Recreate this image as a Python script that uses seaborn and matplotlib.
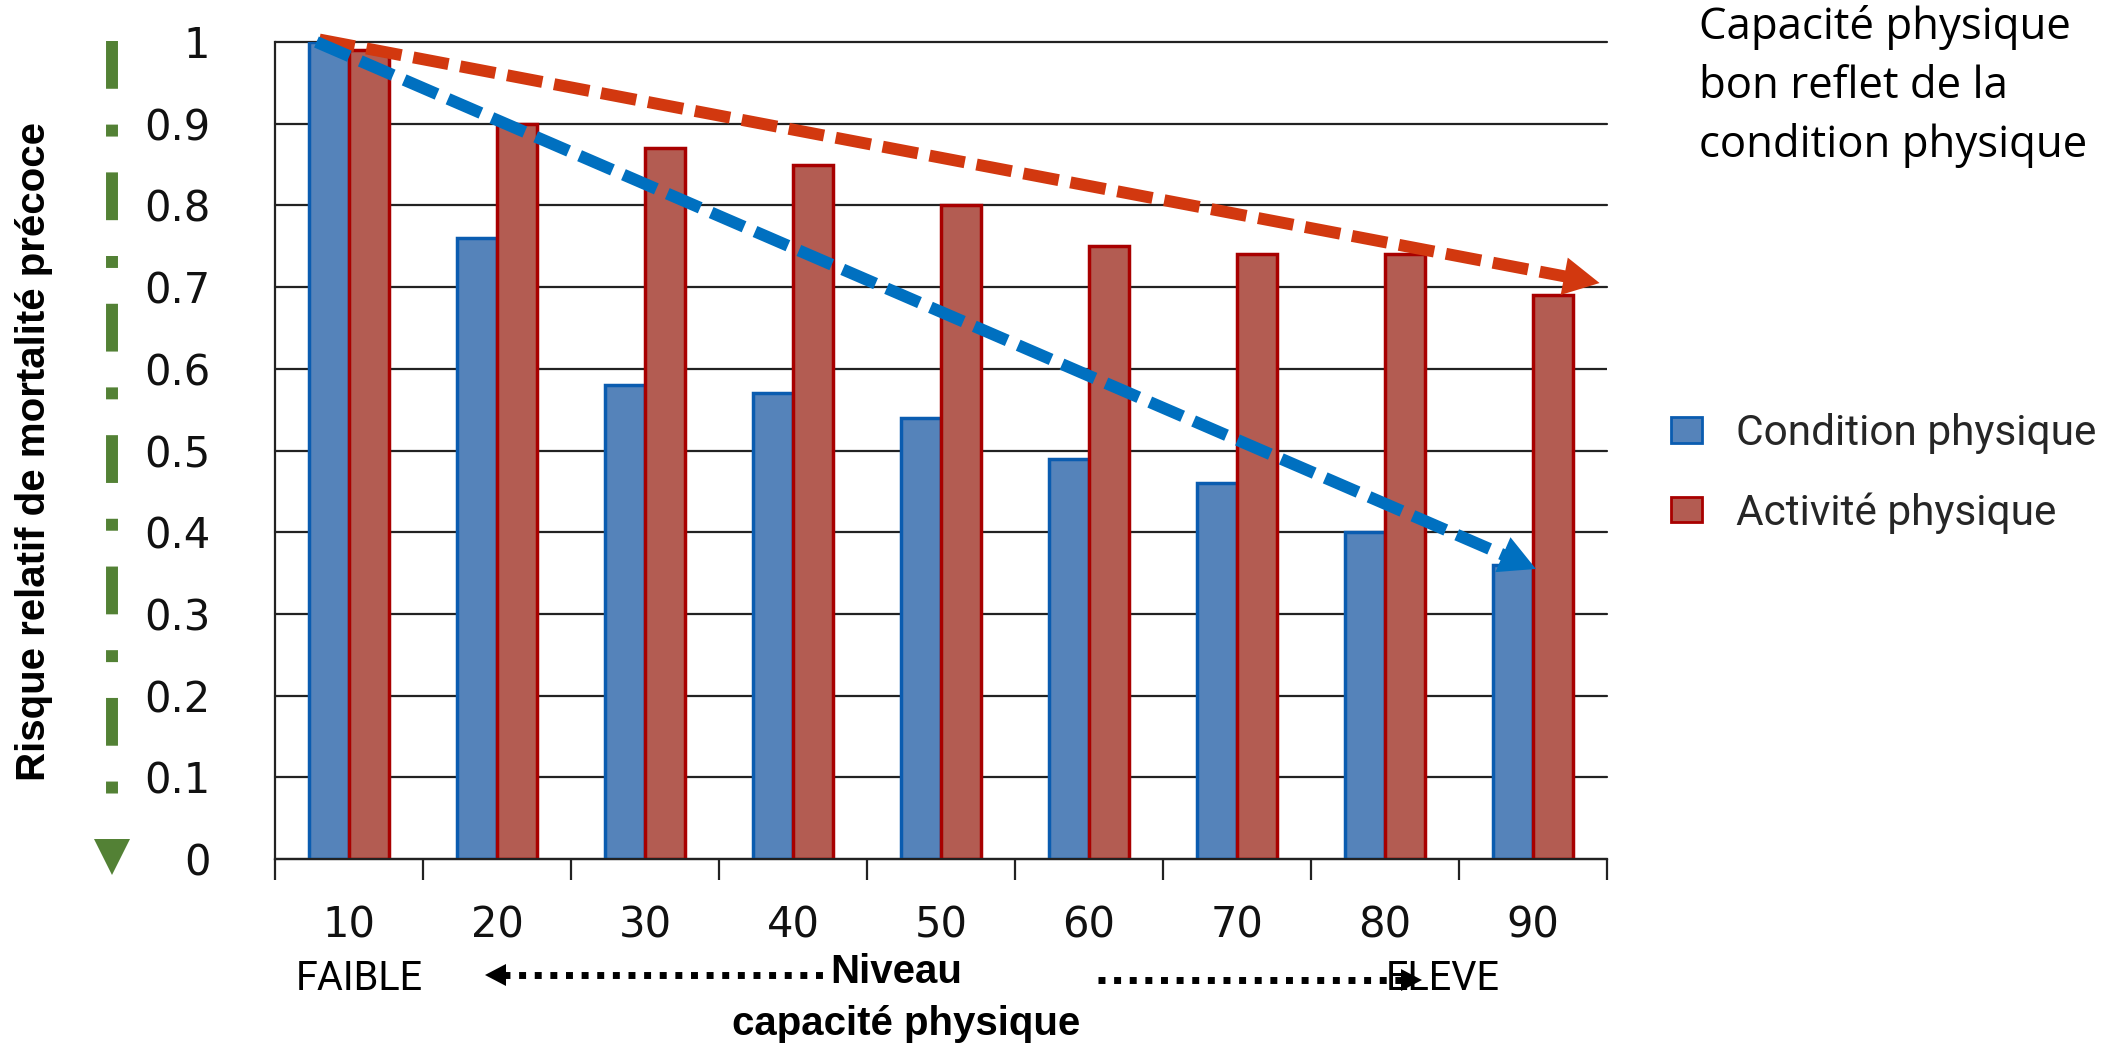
import numpy as np
import pandas as pd
import matplotlib
matplotlib.use("Agg")
import matplotlib.pyplot as plt
import seaborn as sns
from matplotlib.lines import Line2D
from matplotlib.patches import Patch, Polygon

# ---------------- data ----------------
niveaux = ["10", "20", "30", "40", "50", "60", "70", "80", "90"]
condition_physique = [1.00, 0.76, 0.58, 0.57, 0.54, 0.49, 0.46, 0.40, 0.36]
activite_physique = [0.99, 0.90, 0.87, 0.85, 0.80, 0.75, 0.74, 0.74, 0.69]
series = ["Condition physique", "Activité physique"]
y_ticks = [0, 0.1, 0.2, 0.3, 0.4, 0.5, 0.6, 0.7, 0.8, 0.9, 1]
y_tick_labels = ["0", "0.1", "0.2", "0.3", "0.4", "0.5", "0.6", "0.7", "0.8", "0.9", "1"]
ylabel = "Risque relatif de mortalité précoce"
note = "Capacité physique\nbon reflet de la\ncondition physique"

# trend arrows (annotation endpoints, data units)
trend_red = [(-0.20, 1.003), (8.45, 0.705)]
trend_blue = [(-0.22, 1.0), (8.02, 0.355)]

# ---------------- style ----------------
fill_cols = ["#5583BA", "#B35C52"]
edge_cols = ["#0A5CB0", "#A80000"]
red_line = "#D2380F"
blue_line = "#0070C0"
green = "#538135"

sns.set_theme(style="white")
plt.rcParams["font.family"] = ["DejaVu Sans"]

W, H = 2128, 1048
fig = plt.figure(figsize=(W / 100, H / 100), dpi=100)
ax = fig.add_axes([275 / W, 1 - 859 / H, (1607 - 275) / W, (859 - 42) / H])

df = pd.DataFrame({
    "niveau": niveaux * 2,
    "risque": condition_physique + activite_physique,
    "serie": [series[0]] * len(niveaux) + [series[1]] * len(niveaux),
})
sns.barplot(data=df, x="niveau", y="risque", hue="serie", hue_order=series,
            palette=fill_cols, width=0.54, saturation=1, errorbar=None,
            legend=False, ax=ax, zorder=2)
for cont, ec in zip(ax.containers, edge_cols):
    for b in cont:
        b.set_edgecolor(ec)
        b.set_linewidth(2.5)

ax.set_xlim(-0.5, len(niveaux) - 0.5)
ax.set_ylim(0, 1)
ax.set_xlabel("")
ax.set_ylabel("")

# grid & spines
ax.set_axisbelow(True)
ax.yaxis.grid(True, color="#222222", linewidth=1.6)
ax.xaxis.grid(False)
for gl in ax.get_ygridlines():
    gl.set_clip_on(False)
for s in ["top", "right"]:
    ax.spines[s].set_visible(False)
for s in ["left", "bottom"]:
    ax.spines[s].set_color("#222222")
    ax.spines[s].set_linewidth(1.6)

ax.set_yticks(y_ticks, y_tick_labels)
ax.tick_params(axis="y", length=16.5, width=1.6, color="#222222", pad=30,
               labelsize=30, labelcolor="#111111")
ax.set_xticks(range(len(niveaux)), niveaux)
ax.set_xticks(np.arange(-0.5, len(niveaux), 1.0), minor=True)
ax.tick_params(axis="x", which="major", length=0, pad=33, labelsize=30,
               labelcolor="#111111")
ax.tick_params(axis="x", which="minor", length=15, width=1.6, color="#222222",
               bottom=True)

fig.canvas.draw()

# dashed trend arrows with solid heads
def trend_arrow(p0, p1, color, lw=8.6, head_len=36, head_w=38):
    a = ax.transData.transform(p0)
    b = ax.transData.transform(p1)
    d = (b - a) / np.hypot(*(b - a))
    n = np.array([-d[1], d[0]])
    base = b - d * head_len
    inv = ax.transData.inverted()
    l0, l1 = inv.transform(a), inv.transform(base + d * 2)
    ax.add_line(Line2D([l0[0], l1[0]], [l0[1], l1[1]], color=color, lw=lw,
                       dashes=(3, 1), dash_capstyle="butt", clip_on=False, zorder=5))
    verts = inv.transform(np.array([b, base + n * head_w / 2, base - n * head_w / 2]))
    ax.add_patch(Polygon(verts, closed=True, facecolor=color, edgecolor="none",
                         clip_on=False, zorder=6))

trend_arrow(trend_red[0], trend_red[1], red_line)
trend_arrow(trend_blue[0], trend_blue[1], blue_line)

# overlay in pixel coordinates for decorations
ov = fig.add_axes([0, 0, 1, 1], facecolor="none")
ov.set_xlim(0, W)
ov.set_ylim(H, 0)
ov.axis("off")

# green dash-dot arrow at left
ov.add_line(Line2D([112, 112], [41, 803], color=green, lw=8.6,
                   dashes=(4, 3, 1, 3), dash_capstyle="butt"))
ov.add_patch(Polygon([[94, 839], [130, 839], [112, 875]], closed=True,
                     facecolor=green, edgecolor="none"))

# y label
fig.text(34 / W, 1 - 451 / H, ylabel, rotation=90, ha="center", va="center",
         fontsize=29, fontweight="bold", family="Liberation Sans", color="black")

# legend
handles = [Patch(facecolor=fill_cols[i], edgecolor=edge_cols[i], linewidth=2)
           for i in range(2)]
ax.legend(handles, series, loc="upper left", bbox_to_anchor=(1671 / W, 1 - 413 / H),
          bbox_transform=fig.transFigure, frameon=False,
          prop={"family": "Roboto", "size": 30.5}, handlelength=0.73,
          handleheight=0.54, handletextpad=0.8, labelspacing=0.9,
          borderpad=0, borderaxespad=0)

# note text at top right
fig.text(1699 / W, 1 - 5 / H, note, ha="left", va="top", family="Open Sans",
         fontsize=31.5, linespacing=1.42, color="black")

# bottom annotations
fig.text(296 / W, 1 - 978 / H, "FAIBLE", ha="left", va="center",
         family="Roboto", fontsize=28.5, color="black")
fig.text(1386 / W, 1 - 978 / H, "ELEVE", ha="left", va="center",
         family="Roboto", fontsize=28.5, color="black")
fig.text(896 / W, 1 - 972 / H, "Niveau", ha="center", va="center",
         family="Liberation Sans", fontweight="bold", fontsize=29, color="black")
fig.text(906 / W, 1 - 1024 / H, "capacité physique", ha="center", va="center",
         family="Liberation Sans", fontweight="bold", fontsize=29, color="black")

ov.add_line(Line2D([503, 823], [975, 975], color="black", lw=5,
                   dashes=(1, 1.25), dash_capstyle="butt"))
ov.add_patch(Polygon([[485, 975], [506, 964], [506, 986]], closed=True,
                     facecolor="black", edgecolor="none"))
ov.add_line(Line2D([1098, 1402], [980, 980], color="black", lw=5,
                   dashes=(1, 1.25), dash_capstyle="butt", zorder=5))
ov.add_patch(Polygon([[1422, 980], [1401, 969], [1401, 991]], closed=True,
                     facecolor="black", edgecolor="none", zorder=5))

fig.savefig("out.png", dpi=100, facecolor="white")
